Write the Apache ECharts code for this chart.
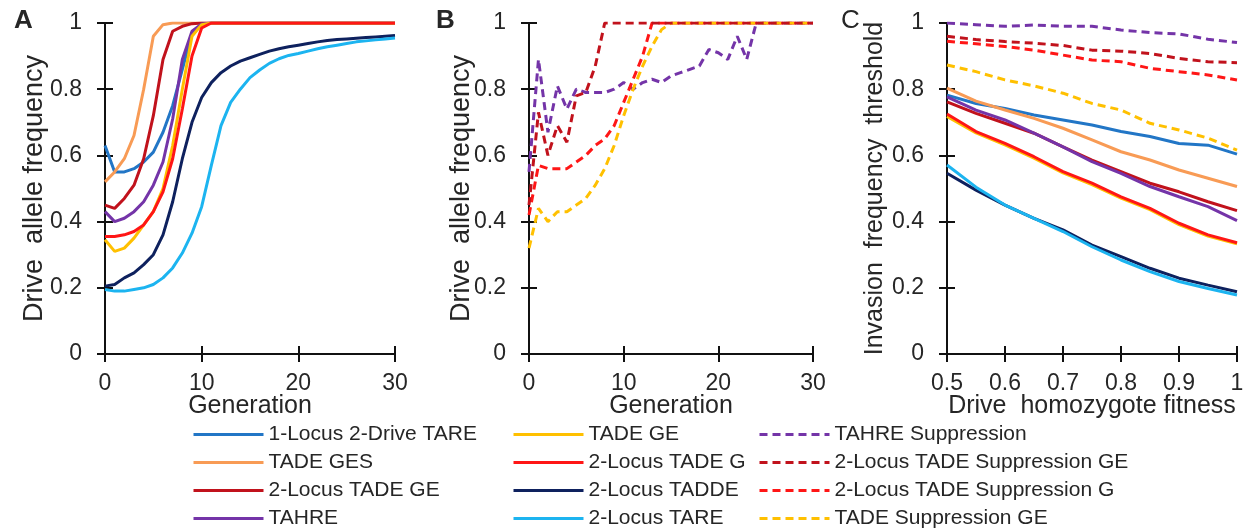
<!DOCTYPE html>
<html><head><meta charset="utf-8">
<script src="https://cdn.jsdelivr.net/npm/echarts@6/dist/echarts.min.js"></script>
<style>html,body{margin:0;padding:0;background:#fff}#c{width:1258px;height:531px}</style>
</head><body><div id="c"></div>
<script>
const FONT = '"Liberation Sans",Arial,sans-serif';
const TXT = '#262626';

// ---------- x values ----------
const generations = [0,1,2,3,4,5,6,7,8,9,10,11,12,13,14,15,16,17,18,19,20,21,22,23,24,25,26,27,28,29,30];
const fitness = [0.5,0.55,0.6,0.65,0.7,0.75,0.8,0.85,0.9,0.95,1];

// ---------- Panel A (solid, drive allele frequency vs generation) ----------
const a1Locus2DriveTARE = [0.63,0.55,0.55,0.56,0.58,0.61,0.67,0.75,0.86,0.97,0.995,1,1,1,1,1,1,1,1,1,1,1,1,1,1,1,1,1,1,1,1];
const aTADEGES          = [0.52,0.55,0.59,0.66,0.80,0.96,0.995,1,1,1,1,1,1,1,1,1,1,1,1,1,1,1,1,1,1,1,1,1,1,1,1];
const a2LocusTADEGE     = [0.45,0.44,0.47,0.51,0.59,0.72,0.89,0.975,0.99,0.998,1,1,1,1,1,1,1,1,1,1,1,1,1,1,1,1,1,1,1,1,1];
const aTAHRE            = [0.43,0.40,0.41,0.43,0.46,0.51,0.58,0.71,0.89,0.975,0.997,1,1,1,1,1,1,1,1,1,1,1,1,1,1,1,1,1,1,1,1];
const aTADEGE           = [0.345,0.31,0.32,0.35,0.39,0.43,0.50,0.63,0.80,0.96,0.995,1,1,1,1,1,1,1,1,1,1,1,1,1,1,1,1,1,1,1,1];
const a2LocusTADEG      = [0.355,0.355,0.36,0.37,0.39,0.43,0.49,0.59,0.74,0.90,0.985,1,1,1,1,1,1,1,1,1,1,1,1,1,1,1,1,1,1,1,1];
const a2LocusTADDE      = [0.205,0.21,0.23,0.245,0.27,0.30,0.36,0.46,0.59,0.70,0.775,0.82,0.85,0.87,0.885,0.895,0.905,0.915,0.922,0.928,0.933,0.938,0.943,0.947,0.95,0.952,0.954,0.956,0.958,0.96,0.962];
const a2LocusTARE       = [0.195,0.19,0.19,0.195,0.20,0.21,0.23,0.26,0.305,0.365,0.445,0.57,0.69,0.76,0.80,0.835,0.858,0.878,0.892,0.902,0.908,0.915,0.922,0.928,0.933,0.938,0.943,0.946,0.949,0.952,0.955];

// ---------- Panel B (dashed, suppression drives) ----------
const bTAHRESupp         = [0.55,0.89,0.67,0.81,0.74,0.80,0.79,0.79,0.79,0.80,0.82,0.80,0.82,0.83,0.82,0.84,0.85,0.86,0.87,0.92,0.91,0.89,0.96,0.89,1,1,1,1,1,1,1];
const b2LocusTADESuppGE  = [0.45,0.73,0.60,0.69,0.64,0.78,0.79,0.87,1,1,1,1,1,1,1,1,1,1,1,1,1,1,1,1,1,1,1,1,1,1,1];
const b2LocusTADESuppG   = [0.42,0.57,0.56,0.56,0.56,0.58,0.60,0.63,0.65,0.69,0.76,0.83,0.90,1,1,1,1,1,1,1,1,1,1,1,1,1,1,1,1,1,1];
const bTADESuppGE        = [0.32,0.44,0.40,0.43,0.43,0.45,0.47,0.51,0.56,0.63,0.72,0.80,0.87,0.93,0.98,1,1,1,1,1,1,1,1,1,1,1,1,1,1,1,1];

// ---------- Panel C (invasion frequency threshold vs fitness) ----------
const c1Locus2DriveTARE  = [0.782,0.757,0.742,0.722,0.707,0.692,0.672,0.657,0.636,0.631,0.604];
const cTADEGES           = [0.803,0.764,0.737,0.712,0.682,0.647,0.611,0.586,0.556,0.531,0.506];
const c2LocusTADEGE      = [0.762,0.727,0.697,0.667,0.626,0.586,0.551,0.516,0.49,0.46,0.433];
const cTAHRE             = [0.777,0.737,0.707,0.667,0.626,0.581,0.546,0.506,0.475,0.445,0.403];
const cTADEGE            = [0.718,0.668,0.632,0.592,0.547,0.512,0.471,0.436,0.391,0.356,0.333];
const c2LocusTADEG       = [0.725,0.672,0.636,0.596,0.551,0.516,0.475,0.44,0.395,0.36,0.336];
const c2LocusTADDE       = [0.546,0.495,0.45,0.41,0.375,0.329,0.294,0.259,0.229,0.208,0.188];
const c2LocusTARE        = [0.571,0.504,0.45,0.41,0.37,0.324,0.284,0.249,0.219,0.198,0.178];
const cTAHRESupp         = [1.0,0.995,0.99,0.994,0.99,0.99,0.979,0.971,0.967,0.951,0.941];
const c2LocusTADESuppGE  = [0.96,0.95,0.944,0.939,0.932,0.918,0.915,0.908,0.893,0.883,0.88];
const c2LocusTADESuppG   = [0.945,0.937,0.929,0.918,0.903,0.888,0.883,0.863,0.853,0.843,0.828];
const cTADESuppGE        = [0.873,0.853,0.828,0.81,0.788,0.757,0.737,0.697,0.677,0.652,0.616];

// ---------- names / colours ----------
const N = {
  t1: '1-Locus 2-Drive TARE', ges: 'TADE GES', l2ge: '2-Locus TADE GE', tahre: 'TAHRE',
  ge: 'TADE GE', l2g: '2-Locus TADE G', tadde: '2-Locus TADDE', l2tare: '2-Locus TARE',
  ts: 'TAHRE Suppression', l2sge: '2-Locus TADE Suppression GE', l2sg: '2-Locus TADE Suppression G', sge: 'TADE Suppression GE'
};
const C = {
  blue: '#2276C6', orange: '#F89B55', darkred: '#C1121C', purple: '#7434A8',
  yellow: '#FFC000', red: '#FF1616', navy: '#0E215E', light: '#1CB4F0'
};

function mk(name, color, xs, ys, idx, dashed) {
  return {
    name, type: 'line', xAxisIndex: idx, yAxisIndex: idx,
    data: xs.map((x, i) => [x, ys[i]]),
    symbol: 'none', silent: true,
    lineStyle: { color, width: 3, type: dashed ? [8, 5] : 'solid' },
    itemStyle: { color }
  };
}

const series = [
  mk(N.t1, C.blue, generations, a1Locus2DriveTARE, 0),
  mk(N.ges, C.orange, generations, aTADEGES, 0),
  mk(N.l2ge, C.darkred, generations, a2LocusTADEGE, 0),
  mk(N.tahre, C.purple, generations, aTAHRE, 0),
  mk(N.ge, C.yellow, generations, aTADEGE, 0),
  mk(N.tadde, C.navy, generations, a2LocusTADDE, 0),
  mk(N.l2tare, C.light, generations, a2LocusTARE, 0),
  mk(N.l2g, C.red, generations, a2LocusTADEG, 0),

  mk(N.ts, C.purple, generations, bTAHRESupp, 1, true),
  mk(N.l2sg, C.red, generations, b2LocusTADESuppG, 1, true),
  mk(N.sge, C.yellow, generations, bTADESuppGE, 1, true),
  mk(N.l2sge, C.darkred, generations, b2LocusTADESuppGE, 1, true),

  mk(N.ts, C.purple, fitness, cTAHRESupp, 2, true),
  mk(N.l2sge, C.darkred, fitness, c2LocusTADESuppGE, 2, true),
  mk(N.l2sg, C.red, fitness, c2LocusTADESuppG, 2, true),
  mk(N.sge, C.yellow, fitness, cTADESuppGE, 2, true),
  mk(N.t1, C.blue, fitness, c1Locus2DriveTARE, 2),
  mk(N.ges, C.orange, fitness, cTADEGES, 2),
  mk(N.l2ge, C.darkred, fitness, c2LocusTADEGE, 2),
  mk(N.tahre, C.purple, fitness, cTAHRE, 2),
  mk(N.ge, C.yellow, fitness, cTADEGE, 2),
  mk(N.l2g, C.red, fitness, c2LocusTADEG, 2),
  mk(N.tadde, C.navy, fitness, c2LocusTADDE, 2),
  mk(N.l2tare, C.light, fitness, c2LocusTARE, 2)
];

const grids = [
  { left: 105, top: 23, width: 290, height: 331 },
  { left: 529, top: 23, width: 284, height: 331 },
  { left: 947, top: 23, width: 290, height: 331 }
];

const axisLine = { show: true, lineStyle: { color: '#111', width: 2 } };
const tickOut = { show: true, length: 8, lineStyle: { color: '#111', width: 2 } };
const tickIn = { show: true, inside: true, length: 8, lineStyle: { color: '#111', width: 2 } };
const labelStyle = { color: TXT, fontFamily: FONT, fontSize: 23 };

const xRanges = [
  { min: 0, max: 30, interval: 10, name: 'Generation' },
  { min: 0, max: 30, interval: 10, name: 'Generation' },
  { min: 0.5, max: 1, interval: 0.1, name: 'Drive  homozygote fitness' }
];
const yNames = ['Drive  allele frequency', 'Drive  allele frequency', 'Invasion  frequency  threshold'];
const yNameSize = [27, 27, 25];
const yNameGap = [57, 54, 59];

const xAxis = [], yAxis = [];
for (let i = 0; i < 3; i++) {
  const r = xRanges[i];
  xAxis.push({
    gridIndex: i, type: 'value', position: 'bottom', min: r.min, max: r.max, interval: r.interval,
    name: r.name, nameLocation: 'middle', nameGap: 40, nameMoveOverlap: false,
    nameTextStyle: { color: TXT, fontFamily: FONT, fontSize: 25 },
    axisLine, axisTick: tickOut, splitLine: { show: false },
    axisLabel: Object.assign({ margin: 18 }, labelStyle)
  });
  yAxis.push({
    gridIndex: i, type: 'value', position: 'left', min: 0, max: 1, interval: 0.2,
    name: yNames[i], nameLocation: 'middle', nameGap: yNameGap[i], nameMoveOverlap: false,
    nameTextStyle: { color: TXT, fontFamily: FONT, fontSize: yNameSize[i] },
    axisLine, axisTick: tickOut, splitLine: { show: false },
    axisLabel: Object.assign({ margin: 23 }, labelStyle)
  });
}
for (let i = 0; i < 3; i++) {
  const r = xRanges[i];
  xAxis.push({
    gridIndex: i, type: 'value', position: 'bottom', min: r.min, max: r.max, interval: r.interval,
    axisLine: { show: false }, axisTick: tickIn, axisLabel: { show: false }, splitLine: { show: false }
  });
  yAxis.push({
    gridIndex: i, type: 'value', position: 'left', min: 0, max: 1, interval: 0.2,
    axisLine: { show: false }, axisTick: tickIn, axisLabel: { show: false }, splitLine: { show: false }
  });
}

const legendCommon = {
  orient: 'vertical', top: 424, height: 107, padding: 0, itemWidth: 70, itemHeight: 14, itemGap: 7,
  selectedMode: false,
  itemStyle: { opacity: 0 },
  lineStyle: { width: 3 },
  textStyle: { color: TXT, fontFamily: FONT, fontSize: 21, lineHeight: 21 }
};
const legend = [
  Object.assign({ left: 192, data: [N.t1, N.ges, N.l2ge, N.tahre] }, legendCommon),
  Object.assign({ left: 512, data: [N.ge, N.l2g, N.tadde, N.l2tare] }, legendCommon),
  Object.assign({ left: 758, data: [N.ts, N.l2sge, N.l2sg, N.sge] }, legendCommon)
];

const chart = echarts.init(document.getElementById('c'), null, { renderer: 'canvas' });
chart.setOption({
  animation: false,
  backgroundColor: '#fff',
  grid: grids,
  xAxis, yAxis, series, legend,
  graphic: [
    { type: 'text', left: 14, top: 8, style: { text: 'A', font: 'bold 26px ' + FONT, fill: TXT } },
    { type: 'text', left: 436, top: 8, style: { text: 'B', font: 'bold 26px ' + FONT, fill: TXT } },
    { type: 'text', left: 841, top: 8, style: { text: 'C', font: '26px ' + FONT, fill: TXT } }
  ]
});
</script></body></html>
